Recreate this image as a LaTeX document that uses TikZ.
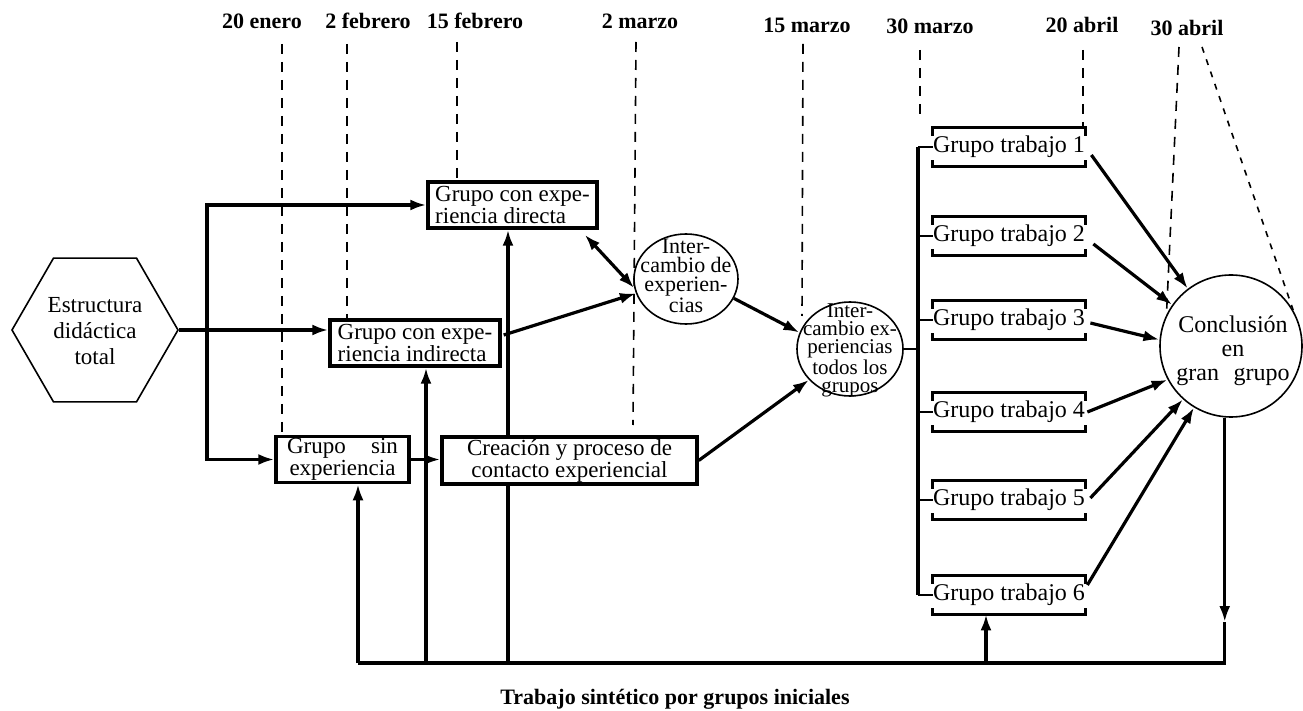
\documentclass[tikz,border=0pt]{standalone}
\usepackage{fontspec}
\setmainfont{Liberation Serif}
\usetikzlibrary{arrows.meta,shapes.geometric,calc,backgrounds}
\begin{document}
\begin{tikzpicture}[x=0.5pt,y=-0.5pt,
 txt/.style={inner sep=0pt, align=center},
 datelbl/.style={font=\bfseries\fontsize{11}{12}\selectfont, inner sep=0pt},
 box/.style={draw, line width=1.7pt, inner xsep=1pt, inner ysep=1pt, fill=white, font=\fontsize{11.5}{11}\selectfont},
 gt/.style={inner sep=0pt, minimum width=74pt, minimum height=19pt, font=\fontsize{12}{12}\selectfont},
 thinshape/.style={draw, line width=0.8pt, inner sep=0pt},
 conn/.style={line width=1.6pt},
 arr/.style={-{Latex[length=8pt,width=5.5pt]}},
 darr/.style={{Latex[length=8pt,width=5.5pt]}-{Latex[length=8pt,width=5.5pt]}},
 dsh/.style={line width=0.8pt, dash pattern=on 5pt off 4pt},
 dshb/.style={line width=0.8pt, dash pattern=on 3pt off 3.5pt},
 gtbar/.style={line width=1.7pt},
 stub/.style={line width=1pt}]

\useasboundingbox (0,0) rectangle (1303,711);

% ---------- date labels
\node[datelbl] (d1) at (262,21) {20 enero};
\node[datelbl] (d2) at (368,21) {2 febrero};
\node[datelbl] (d3) at (475,21) {15 febrero};
\node[datelbl] (d4) at (640,21) {2 marzo};
\node[datelbl] (d5) at (807,25) {15 marzo};
\node[datelbl] (d6) at (930,26) {30 marzo};
\node[datelbl] (d7) at (1082,25) {20 abril};
\node[datelbl] (d8) at (1187,28) {30 abril};

% ---------- main nodes
\node[regular polygon, regular polygon sides=6, thinshape, minimum size=83pt] (hex) at (95,330) {};
\node[txt, font=\fontsize{11.5}{13}\selectfont] (hext) at (95,331) {Estructura\\didáctica\\total};

\node[box, minimum width=84.5pt, minimum height=23pt, align=left] (directa) at (512.5,205) {Grupo con expe-\\riencia directa};
\node[box, minimum width=85pt, minimum height=23pt, align=left] (indirecta) at (415,343) {Grupo con expe-\\riencia indirecta};
\node[box, minimum width=66.5pt, minimum height=22.5pt, align=center] (sin) at (342.5,459.5) {Grupo\hspace{1.1em}sin\\experiencia};

\node[ellipse, thinshape, minimum width=52pt, minimum height=45pt] (c1) at (686,279) {};
\node[txt, font=\fontsize{11}{9.6}\selectfont] (c1t) at (686,276) {Inter-\\cambio de\\experien-\\cias};

\node[ellipse, thinshape, minimum width=53pt, minimum height=47pt] (c2) at (850,349) {};
\node[txt, font=\fontsize{10.5}{9}\selectfont] (c2t) at (850,350) {Inter-\\cambio ex-\\periencias\\todos los\\grupos};

\node[circle, thinshape, minimum size=71pt] (concl) at (1231,346) {};
\node[txt, font=\fontsize{12}{12}\selectfont] (conclt) at (1233,351) {Conclusión\\en\\gran\hspace{0.6em}grupo};

\node[gt] (gt1) at (1009,147) {Grupo trabajo 1};
\node[gt] (gt2) at (1009,236) {Grupo trabajo 2};
\node[gt] (gt3) at (1009,320) {Grupo trabajo 3};
\node[gt] (gt4) at (1009,412) {Grupo trabajo 4};
\node[gt] (gt5) at (1009,500) {Grupo trabajo 5};
\node[gt] (gt6) at (1009,595) {Grupo trabajo 6};

% ---------- coordinates
\coordinate (t1) at (282,44);
\coordinate (t2) at (347,44);
\coordinate (t3) at (457,42);
\coordinate (t4) at (636,42);
\coordinate (b4) at (633,425);
\coordinate (t5) at (803,44);
\coordinate (b5) at (802,316);
\coordinate (t6) at (920,50);
\coordinate (b6) at (920,118);
\coordinate (t7) at (1083,50);
\coordinate (t8a) at (1179,47);
\coordinate (t8b) at (1202,47);
\coordinate (busl) at (207,0);
\coordinate (busr) at (918,0);
\coordinate (ua) at (358,663);
\coordinate (ub) at (426,663);
\coordinate (uc) at (508,663);
\coordinate (ud) at (986,663);
\coordinate (dtip) at (1226,622);

% ---------- background: white, dashed time lines, long vertical
\begin{scope}[on background layer]
\fill[white] (0,0) rectangle (1303,711);
\draw[dsh] (t1) -- (t1 |- sin.north);
\draw[dsh] (t2) -- (t2 |- indirecta.north);
\draw[dsh] (t3) -- (t3 |- directa.north);
\draw[dsh] (t4) -- (b4);
\draw[dsh] (t5) -- (b5);
\draw[dsh] (t6) -- (b6);
\draw[dsh] (t7) -- (t7 |- gt1.north);
\draw[dsh] (t8a) -- (concl.154);
\draw[dshb] (t8b) -- (concl.30);
\draw[conn,arr] (uc) -- (uc |- directa.south);
\end{scope}

\node[box, minimum width=127.5pt, minimum height=22.5pt, align=center] (creacion) at (569.5,460.5) {Creación y proceso de\\contacto experiencial};

% ---------- Grupo trabajo brackets and bus
\foreach \g in {gt1,gt2,gt3,gt4,gt5,gt6}{
  \draw[gtbar] ([yshift=-4pt]\g.north west) -- (\g.north west) -- (\g.north east) -- ([yshift=-4pt]\g.north east);
  \draw[gtbar] ([yshift=3pt]\g.south west) -- (\g.south west) -- (\g.south east) -- ([yshift=3pt]\g.south east);
  \draw[stub] (busr |- \g.west) -- (\g.west);
}
\draw[conn] (busr |- gt1.west) -- (busr |- gt6.west);
\draw[stub] (c2.east) -- (c2.east -| busr);

% ---------- left connectors
\draw[conn,darr] (directa.west) -- (busl |- directa.west) -- (busl |- sin.west) -- (sin.west);
\draw[conn,arr] (hex.east) -- (indirecta.west |- hex.east);
\draw[conn,arr] (sin.east) -- (creacion.west |- sin.east);

% ---------- towards exchange circles
\draw[conn,darr] ($(directa.south east)+(-14,5)$) -- (c1.190);
\draw[conn,arr] ($(indirecta.east)+(2,-8)$) -- (c1.196);
\draw[conn,arr] (c1.338) -- (c2.162);
\draw[conn,arr] (creacion.east) -- (c2.217);

% ---------- towards conclusion
\draw[conn,arr] ($(gt1.east)+(6,8)$) -- (concl.127);
\draw[conn,arr] ($(gt2.east)+(8,8)$) -- (concl.145);
\draw[conn,arr] ($(gt3.east)+(5,3)$) -- (concl.175);
\draw[conn,arr] ($(gt4.east)+(2,0)$) -- (concl.208);
\draw[conn,arr] ($(gt5.east)+(5,-2)$) -- (concl.228);
\draw[conn,arr] ($(gt6.east)+(2,-10)$) -- (concl.239);

% ---------- feedback loop at the bottom
\draw[conn,arr] (concl.265) -- (concl.265 |- dtip);
\draw[conn] (concl.265 |- dtip) -- (concl.265 |- ua) -- (ua);
\draw[conn,arr] (ua) -- (ua |- sin.south);
\draw[conn,arr] (ub) -- (ub |- indirecta.south);
\draw[conn,arr] (ud) -- (ud |- gt6.south);

% ---------- caption
\node[font=\bfseries\fontsize{11}{12}\selectfont, inner sep=0pt] (cap) at (675,699) {Trabajo sintético por grupos iniciales};
\end{tikzpicture}
\end{document}
